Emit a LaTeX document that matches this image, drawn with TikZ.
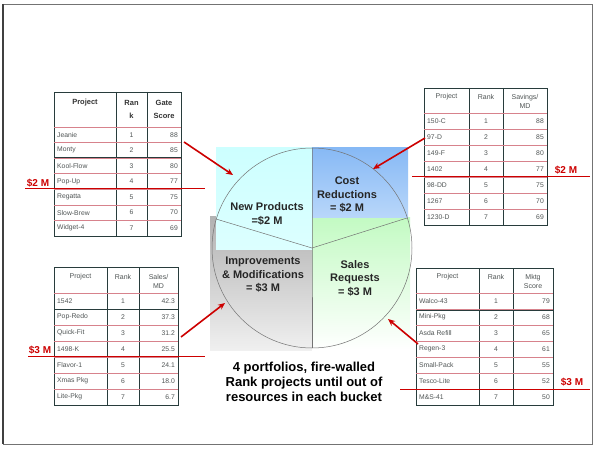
\documentclass[tikz,border=0pt]{standalone}
\usepackage{fontspec}
\setmainfont{Liberation Sans}
\usetikzlibrary{arrows.meta,calc}
\definecolor{rd}{RGB}{205,0,0}
\definecolor{pinkln}{RGB}{215,130,140}
\definecolor{darkln}{RGB}{40,60,60}
\definecolor{txtc}{RGB}{80,85,85}
\definecolor{cyanbg}{RGB}{205,255,255}
\definecolor{bluetop}{RGB}{135,185,245}
\definecolor{bluebot}{RGB}{185,215,250}
\definecolor{greentop}{RGB}{195,250,195}
\newcommand{\mktable}[9]{%
  \draw[darkln,line width=0.7pt] (#2,#6) rectangle (#5,{#7+7*#8});
  \draw[darkln,line width=0.6pt] (#3,#6) -- (#3,{#7+7*#8});
  \draw[darkln,line width=0.6pt] (#4,#6) -- (#4,{#7+7*#8});
  \draw[pinkln,line width=0.6pt] (#2,#7) -- (#5,#7);
  \foreach \k in {1,...,6} \draw[rowline] (#2,{#7+\k*#8}) -- (#5,{#7+\k*#8});
  \foreach \p/\r/\s [count=\i] in {#9} {
    \node[cell,anchor=west] (#1p\i) at ({#2+3},{#7+(\i-0.5)*#8}) {\p};
    \node[cell] (#1r\i) at ({(#3+#4)/2},{#7+(\i-0.5)*#8}) {\r};
    \node[cell,anchor=east] (#1s\i) at ({#5-3},{#7+(\i-0.5)*#8}) {\s};
  }%
}
\begin{document}
\begin{tikzpicture}[x=1pt,y=-1pt,
  cell/.style={inner sep=0pt,font=\fontsize{6.8}{7}\selectfont,text=txtc},
  head/.style={inner sep=0pt,font=\fontsize{7}{9}\selectfont,text=txtc,align=center},
  headb/.style={inner sep=0pt,font=\fontsize{7.5}{13}\selectfont\bfseries,text=black!80,align=center},
  rowline/.style={pinkln,line width=0.6pt},
  sector/.style={draw=black!55,line width=0.5pt},
  ctext/.style={inner sep=0pt,font=\fontsize{11}{13.5}\selectfont\bfseries,align=center,text=black!85},
  redarrow/.style={rd,line width=1.6pt,-{Stealth[length=7pt,width=6pt]}},
  redline/.style={rd,line width=1pt},
  redlab/.style={inner sep=0pt,font=\fontsize{10}{10}\selectfont\bfseries,text=rd}]
\useasboundingbox (0,0) rectangle (597,449);
\fill[white] (0,0) rectangle (597,449);
% frame
\draw[black!55,line width=0.8pt] (3,4) rectangle (592,444);
\draw[black!75,line width=1.5pt] (3,4) -- (3,444);

% pie backgrounds
\shade[top color=black!30,bottom color=black!6] (210,217) rectangle (312,350);
\shade[top color=greentop,bottom color=white] (312,218) rectangle (410,350);
\shade[top color=cyanbg,bottom color=cyanbg!70!white] (216,148) rectangle (312,249);
\shade[top color=bluetop,bottom color=bluebot] (312,148) rectangle (408,218);

% pie
\coordinate (O) at (312,248);
\coordinate (pt) at (312,148);
\coordinate (pb) at (312,348);
\coordinate (pl) at (216,219);
\coordinate (pr) at (407,218);
\draw[sector] (O) circle (100);
\draw[sector] (pt) -- (O) -- (pb);
\draw[sector] (pl) -- (O) -- (pr);

\node[ctext] (np) at (267,214) {New Products\\=\$2 M};
\node[ctext] (cr) at (347,195) {Cost\\Reductions\\= \$2 M};
\node[ctext] (im) at (263,275) {Improvements\\\& Modifications\\= \$3 M};
\node[ctext] (sr) at (355,278) {Sales\\Requests\\= \$3 M};

\node[inner sep=0pt,font=\fontsize{13}{15}\selectfont\bfseries,align=center] (note) at (304,382)
  {4 portfolios, fire-walled\\Rank projects until out of\\resources in each bucket};

% table 1
\mktable{ta}{54}{116}{147}{181}{92}{127}{15.57}{Jeanie/1/88,Monty/2/85,Kool-Flow/3/80,Pop-Up/4/77,Regatta/5/75,Slow-Brew/6/70,Widget-4/7/69}
\node[headb] (tah1) at (85,103) {Project};
\node[headb] (tah2) at (131.5,109) {Ran\\k};
\node[headb] (tah3) at (164,109) {Gate\\Score};
\draw[darkln,line width=1pt] (54,158) -- (181,158);

% table 2
\mktable{tb}{424}{469}{503}{547}{88}{113}{16}{150-C/1/88,97-D/2/85,149-F/3/80,1402/4/77,98-DD/5/75,1267/6/70,1230-D/7/69}
\node[head] (tbh1) at (446.5,97) {Project};
\node[head] (tbh2) at (486,97) {Rank};
\node[head] (tbh3) at (525,101) {Savings/\\MD};

% table 3
\mktable{tc}{54}{107}{139}{178}{267}{293}{16}{1542/1/42.3,Pop-Redo/2/37.3,Quick-Fit/3/31.2,1498-K/4/25.5,Flavor-1/5/24.1,Xmas Pkg/6/18.0,Lite-Pkg/7/6.7}
\node[head] (tch1) at (80.5,277) {Project};
\node[head] (tch2) at (123,277) {Rank};
\node[head] (tch3) at (158.5,281) {Sales/\\MD};
\draw[darkln,line width=1pt] (54,309) -- (178,309);

% table 4
\mktable{td}{416}{479}{513}{553}{268}{293}{16}{Walco-43/1/79,Mini-Pkg/2/68,Asda Refill/3/65,Regen-3/4/61,Small-Pack/5/55,Tesco-Lite/6/52,M\&S-41/7/50}
\node[head] (tdh1) at (447.5,277) {Project};
\node[head] (tdh2) at (496,277) {Rank};
\node[head] (tdh3) at (533,281) {Mktg\\Score};
\draw[darkln,line width=1pt] (416,310) -- (553,310);

% red cut-off lines
\coordinate (l1a) at (25,189); \coordinate (l1b) at (205,189);
\draw[redline] (l1a) -- (l1b);
\node[redlab] (lab1) at (38,183) {\$2 M};
\coordinate (l2a) at (412,177); \coordinate (l2b) at (590,177);
\draw[redline] (l2a) -- (l2b);
\node[redlab] (lab2) at (566,170.5) {\$2 M};
\coordinate (l3a) at (28,356); \coordinate (l3b) at (205,356);
\draw[redline] (l3a) -- (l3b);
\node[redlab] (lab3) at (40,350) {\$3 M};
\coordinate (l4a) at (400,389); \coordinate (l4b) at (590,389);
\draw[redline] (l4a) -- (l4b);
\node[redlab] (lab4) at (572,382.5) {\$3 M};

% arrows
\coordinate (a1s) at (184,142); \coordinate (a1e) at (233,175);
\coordinate (a2s) at (425,138); \coordinate (a2e) at (373,169);
\coordinate (a3s) at (181,337); \coordinate (a3e) at (225,303);
\coordinate (a4s) at (418,344); \coordinate (a4e) at (388,319);
\draw[redarrow] (a1s) -- (a1e);
\draw[redarrow] (a2s) -- (a2e);
\draw[redarrow] (a3s) -- (a3e);
\draw[redarrow] (a4s) -- (a4e);
\end{tikzpicture}
\end{document}
